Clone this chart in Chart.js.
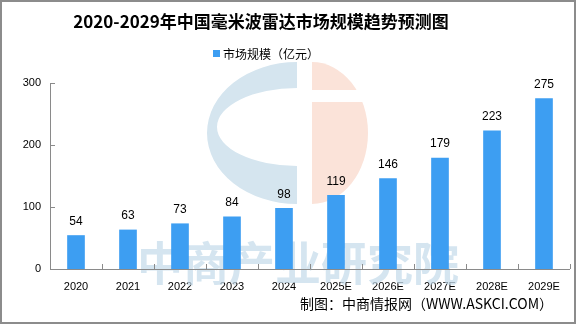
<!DOCTYPE html>
<html>
<head>
<meta charset="utf-8">
<script src="https://cdn.jsdelivr.net/npm/chart.js@4/dist/chart.umd.min.js"></script>
<style>
    html, body { margin: 0; padding: 0; background: #fff; }
    #wrap { width: 576px; height: 324px; position: relative; }
</style>
</head>
<body>
<div id="wrap"><canvas id="market-chart"></canvas></div>
<script>
const years = ["2020", "2021", "2022", "2023", "2024", "2025E", "2026E", "2027E", "2028E", "2029E"];
const marketSize = [54, 63, 73, 84, 98, 119, 146, 179, 223, 275];
const yTicks = [0, 100, 200, 300];

const titleText = "2020-2029年中国毫米波雷达市场规模趋势预测图";
const legendText = "市场规模（亿元）";
const sourceText = "制图：中商情报网（WWW.ASKCI.COM）";
const watermarkText = "中商产业研究院";

const barColor = "#3d9ef2";
const axisColor = "#8a8a8a";
const cjkFont = "'Noto Sans CJK SC', 'Noto Sans', sans-serif";

// logo + text in the background, drawn before the bars
const watermark = {
    id: "watermark",
    beforeDatasetsDraw(chart) {
        const ctx = chart.ctx;
        ctx.save();
        const cy = 133, ry = 71;
        // blue left half with C opening
        ctx.fillStyle = "#d5e5ef";
        ctx.beginPath();
        ctx.ellipse(297, cy, 90, ry, 0, Math.PI / 2, Math.PI * 1.5);
        ctx.lineTo(297, 88);
        ctx.ellipse(297, 127, 80, 39, 0, Math.PI * 1.5, Math.PI / 2, true);
        ctx.closePath();
        ctx.fill();
        // peach right half
        ctx.fillStyle = "#fbe3d9";
        ctx.beginPath();
        ctx.ellipse(312, cy, 56, ry, 0, -Math.PI / 2, Math.PI / 2);
        ctx.closePath();
        ctx.fill();
        ctx.fillStyle = "#ffffff";
        ctx.fillRect(312, 90, 60, 12);
        // text
        ctx.fillStyle = "rgba(195, 218, 234, 0.7)";
        ctx.font = "bold 46px " + cjkFont;
        ctx.textAlign = "center";
        ctx.textBaseline = "alphabetic";
        ctx.fillText(watermarkText, 298, 280);
        ctx.restore();
    },
};

const decorations = {
    id: "decorations",
    afterDraw(chart) {
        const ctx = chart.ctx;
        const area = chart.chartArea;
        const x = chart.scales.x;
        const y = chart.scales.y;
        ctx.save();

        // axes and inward ticks
        ctx.strokeStyle = axisColor;
        ctx.lineWidth = 1;
        ctx.beginPath();
        ctx.moveTo(area.left + 0.5, area.top);
        ctx.lineTo(area.left + 0.5, area.bottom + 0.5);
        ctx.lineTo(area.right, area.bottom + 0.5);
        yTicks.forEach((v) => {
            const py = Math.round(y.getPixelForValue(v)) + 0.5;
            ctx.moveTo(area.left, py);
            ctx.lineTo(area.left + 5, py);
        });
        const step = x.getPixelForValue(1) - x.getPixelForValue(0);
        for (let i = 0; i <= years.length; i++) {
            const px = Math.round(x.getPixelForValue(i) - step / 2) + 0.5;
            ctx.moveTo(px, area.bottom);
            ctx.lineTo(px, area.bottom - 5);
        }
        ctx.stroke();

        // value labels above bars
        ctx.fillStyle = "#000";
        ctx.font = "12px 'Liberation Sans', Arial, sans-serif";
        ctx.textAlign = "center";
        ctx.textBaseline = "middle";
        chart.getDatasetMeta(0).data.forEach((bar, i) => {
            ctx.fillText(String(marketSize[i]), bar.x, bar.y - 14);
        });

        // title
        ctx.font = "bold 17px " + cjkFont;
        ctx.textBaseline = "middle";
        ctx.fillText(titleText, 261, 22);

        // legend
        ctx.fillStyle = barColor;
        ctx.fillRect(213, 50, 7, 7);
        ctx.fillStyle = "#000";
        ctx.font = "12px " + cjkFont;
        ctx.textAlign = "left";
        ctx.fillText(legendText, 223, 54);

        // source
        ctx.font = "14px " + cjkFont;
        ctx.textAlign = "right";
        ctx.fillText(sourceText, 553, 304);

        // frame
        ctx.strokeStyle = "#8c8c8c";
        ctx.lineWidth = 2;
        ctx.strokeRect(1, 1, chart.width - 2, chart.height - 2);
        ctx.restore();
    },
};

const config = {
    type: "bar",
    data: {
        labels: years,
        datasets: [
            {
                label: legendText,
                data: marketSize,
                backgroundColor: barColor,
                barThickness: 17,
            },
        ],
    },
    plugins: [watermark, decorations],
    options: {
        responsive: true,
        maintainAspectRatio: false,
        animation: { duration: 0 },
        layout: {
            padding: { top: 83, right: 6, bottom: 0, left: 0 },
        },
        plugins: {
            legend: { display: false },
            title: { display: false },
            tooltip: { enabled: false },
        },
        scales: {
            x: {
                grid: { display: false, drawTicks: false },
                border: { display: false },
                ticks: {
                    color: "#000",
                    padding: 11,
                    maxRotation: 0,
                    font: { family: "'Liberation Sans', Arial, sans-serif", size: 11 },
                },
                afterFit(scale) {
                    scale.height = 55;
                },
            },
            y: {
                min: 0,
                max: 300,
                grid: { display: false, drawTicks: false },
                border: { display: false },
                ticks: {
                    stepSize: 100,
                    color: "#000",
                    padding: 9,
                    font: { family: "'Liberation Sans', Arial, sans-serif", size: 11 },
                },
                afterFit(scale) {
                    scale.width = 50;
                },
            },
        },
    },
};

new Chart(document.getElementById("market-chart"), config);
</script>
</body>
</html>
